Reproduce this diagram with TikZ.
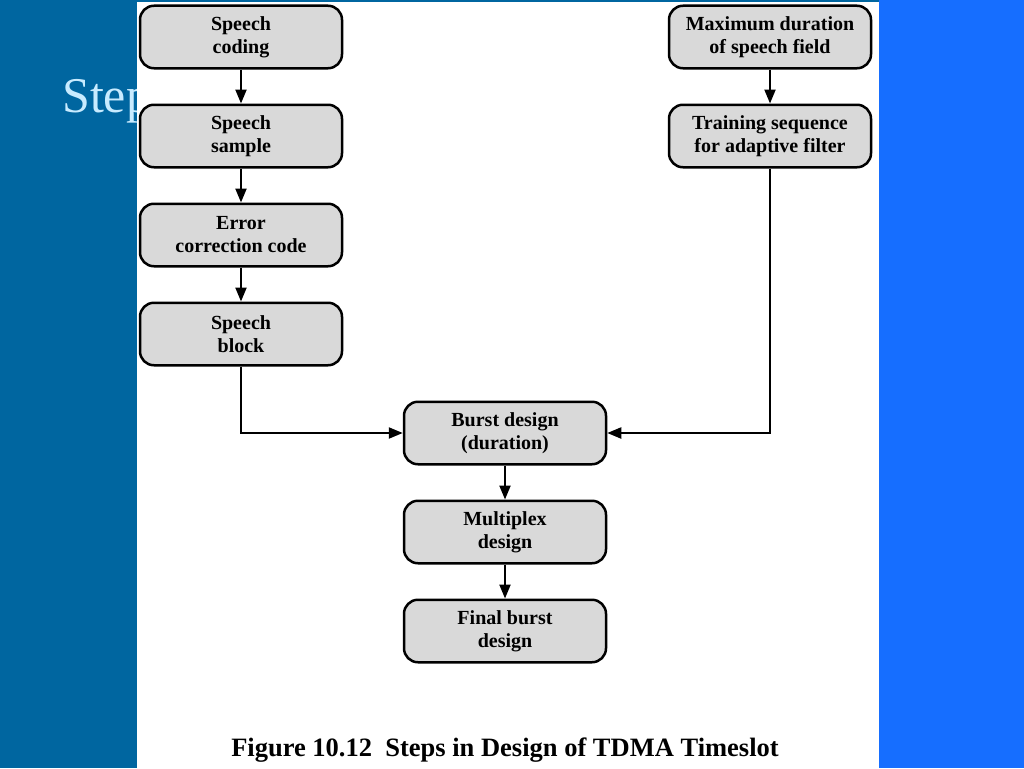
\documentclass[tikz,border=0pt]{standalone}
\usepackage{fontspec}
\setmainfont{Liberation Serif}
\usetikzlibrary{arrows.meta, positioning}
\definecolor{slideblue}{RGB}{0,102,160}
\definecolor{rightblue}{RGB}{22,110,255}
\definecolor{titleblue}{RGB}{200,235,255}
\definecolor{boxgray}{RGB}{217,217,217}

\begin{document}
\begin{tikzpicture}[x=1pt, y=1pt,
  stepbox/.style={draw, line width=2.5pt, rounded corners=14pt, fill=boxgray,
    minimum width=202pt, minimum height=62.5pt, inner sep=0pt, align=center,
    font=\bfseries\fontsize{20}{23}\selectfont},
  flow/.style={line width=2.2pt, -{Triangle[length=14pt, width=11pt]}},
  node distance=34pt]
  \useasboundingbox (0,0) rectangle (1024,-768);

  % --- Slide background ---
  \fill[slideblue] (0,0) rectangle (1024,-768);
  \fill[rightblue] (879,0) rectangle (1024,-768);
  \node[anchor=base west, inner sep=0pt, text=titleblue,
    font=\fontsize{50}{60}\selectfont] (title) at (62,-112) {Step};
  \fill[white] (137,-2) rectangle (879,-768);

  % --- Left column ---
  \node[stepbox] (coding) at (241,-37) {Speech\\coding};
  \node[stepbox, below=of coding] (sample) {Speech\\sample};
  \node[stepbox, below=of sample] (ecc) {Error\\correction code};
  \node[stepbox, below=of ecc] (block) {Speech\\block};

  % --- Right column ---
  \node[stepbox] (maxdur) at (770,-37) {Maximum duration\\of speech field};
  \node[stepbox, below=of maxdur] (training) {Training sequence\\for adaptive filter};

  % --- Centre column ---
  \node[stepbox] (burst) at (505,-433) {Burst design\\(duration)};
  \node[stepbox, below=of burst] (mux) {Multiplex\\design};
  \node[stepbox, below=of mux] (final) {Final burst\\design};

  % --- Connectors ---
  \draw[flow] (coding) -- (sample);
  \draw[flow] (sample) -- (ecc);
  \draw[flow] (ecc) -- (block);
  \draw[flow] (maxdur) -- (training);
  \draw[flow] (block.south) |- (burst.west);
  \draw[flow] (training.south) |- (burst.east);
  \draw[flow] (burst) -- (mux);
  \draw[flow] (mux) -- (final);

  % --- Caption ---
  \node[font=\bfseries\fontsize{26.5}{30}\selectfont] (caption) at (505,-750)
    {Figure 10.12\ \ Steps in Design of TDMA Timeslot};
\end{tikzpicture}
\end{document}
